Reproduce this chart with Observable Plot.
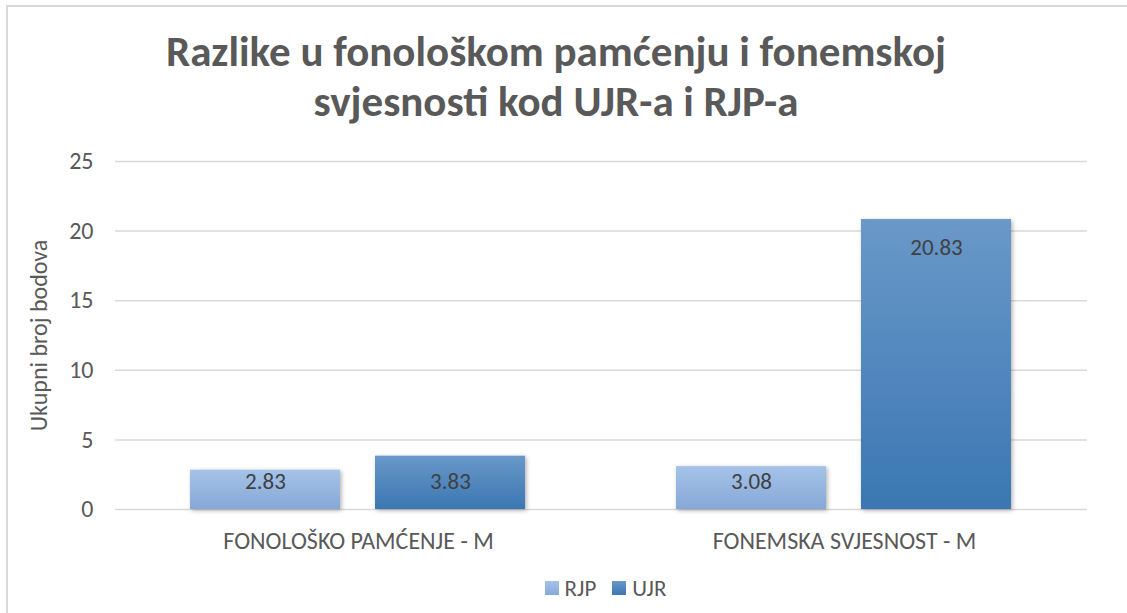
<!DOCTYPE html>
<html>
<head>
<meta charset="utf-8">
<script src="https://cdn.jsdelivr.net/npm/d3@7"></script>
<script src="https://cdn.jsdelivr.net/npm/@observablehq/plot@0.6"></script>
<style>
  html, body { margin: 0; padding: 0; background: #fff; width: 1127px; height: 613px; overflow: hidden; }
  body { font-family: "Carlito", "Open Sans", sans-serif; position: relative; }
  #frame { position: absolute; left: 6px; top: 5px; width: 1200px; height: 700px; border-left: 2px solid #d9d9d9; border-top: 2px solid #d9d9d9; box-sizing: border-box; }
  #title { position: absolute; left: 0; width: 1112px; top: 27px; text-align: center; color: #595959; font-weight: bold; font-size: 43px; line-height: 50px; }
  #chart { position: absolute; left: 0; top: 140px; }
  #legend { position: absolute; top: 574px; left: 0; width: 1127px; display: flex; justify-content: center; gap: 16px; color: #595959; font-size: 23px; padding-left: 84px; box-sizing: border-box; }
  .item { display: flex; align-items: center; gap: 6px; }
  .sw { width: 14px; height: 14px; display: inline-block; }
</style>
</head>
<body>
<div id="frame"></div>
<div id="title">Razlike u fonološkom pamćenju i fonemskoj<br>svjesnosti kod UJR-a i RJP-a</div>
<div id="chart"></div>
<div id="legend"></div>
<script>
const categories = ["FONOLOŠKO PAMĆENJE - M", "FONEMSKA SVJESNOST - M"];
const seriesNames = ["RJP", "UJR"];
const rjpValues = [2.83, 3.08];
const ujrValues = [3.83, 20.83];
const yTicks = [0, 5, 10, 15, 20, 25];
const yLabel = "Ukupni broj bodova";

const seriesColors = { RJP: ["#a5c3e9", "#86a8d7"], UJR: ["#6a98c9", "#3a77b2"] };

const data = [];
categories.forEach((c, i) => {
  data.push({ category: c, series: "RJP", value: rjpValues[i] });
  data.push({ category: c, series: "UJR", value: ujrValues[i] });
});

const font = '"Carlito", "Open Sans", sans-serif';

const plot = Plot.plot({
  width: 1127,
  height: 430,
  marginLeft: 114,
  marginRight: 40,
  marginTop: 21,
  marginBottom: 61,
  style: { fontFamily: font, fontSize: "24px", color: "#595959", background: "transparent" },
  fx: { domain: categories, padding: 0, label: null },
  x: { domain: seriesNames, paddingInner: 0.188, paddingOuter: 0.402, axis: null },
  y: { domain: [0, 25], ticks: yTicks, label: null },
  color: { type: "identity" },
  marks: [
    Plot.gridY(yTicks, { stroke: "#d9d9d9", strokeOpacity: 1, strokeWidth: 1.5 }),
    Plot.axisY(yTicks, { tickSize: 0, tickPadding: 22, label: yLabel, labelArrow: "none", labelAnchor: "center", labelOffset: 86, fontSize: 24, fill: "#595959" }),
    Plot.axisFx({ anchor: "bottom", tickSize: 0, tickPadding: 22, label: null, fontSize: 24, fill: "#595959" }),
    Plot.barY(data, { fx: "category", x: "series", y: "value", fill: d => `url(#grad-${d.series})` }),
    Plot.text(data.filter(d => d.value > 10), { fx: "category", x: "series", y: "value", text: d => d.value.toFixed(2), dy: 28, fontSize: 23, fill: "#404040" }),
    Plot.text(data.filter(d => d.value <= 10), { fx: "category", x: "series", frameAnchor: "bottom", text: d => d.value.toFixed(2), dy: -21, fontSize: 23, fill: "#404040" })
  ]
});

const ns = "http://www.w3.org/2000/svg";
const svg = plot.tagName.toLowerCase() === "svg" ? plot : plot.querySelector("svg");
const defs = document.createElementNS(ns, "defs");
for (const s of seriesNames) {
  const g = document.createElementNS(ns, "linearGradient");
  g.setAttribute("id", `grad-${s}`);
  g.setAttribute("x1", "0"); g.setAttribute("y1", "0"); g.setAttribute("x2", "0"); g.setAttribute("y2", "1");
  seriesColors[s].forEach((col, k) => {
    const st = document.createElementNS(ns, "stop");
    st.setAttribute("offset", k === 0 ? "0" : "1");
    st.setAttribute("stop-color", col);
    g.appendChild(st);
  });
  defs.appendChild(g);
}
const f = document.createElementNS(ns, "filter");
f.setAttribute("id", "barShadow");
f.setAttribute("x", "-10%"); f.setAttribute("y", "-10%"); f.setAttribute("width", "130%"); f.setAttribute("height", "130%");
const ds = document.createElementNS(ns, "feDropShadow");
ds.setAttribute("dx", "1.5"); ds.setAttribute("dy", "1.5"); ds.setAttribute("stdDeviation", "2"); ds.setAttribute("flood-color", "#000"); ds.setAttribute("flood-opacity", "0.3");
f.appendChild(ds);
defs.appendChild(f);
svg.insertBefore(defs, svg.firstChild);
svg.querySelectorAll("rect").forEach(r => { if ((r.getAttribute("fill") || "").startsWith("url(#grad")) r.setAttribute("filter", "url(#barShadow)"); });

document.getElementById("chart").appendChild(plot);

const legend = document.getElementById("legend");
for (const s of seriesNames) {
  const it = document.createElement("div");
  it.className = "item";
  const sw = document.createElement("span");
  sw.className = "sw";
  sw.style.background = `linear-gradient(${seriesColors[s][0]}, ${seriesColors[s][1]})`;
  const lab = document.createElement("span");
  lab.textContent = s;
  it.appendChild(sw); it.appendChild(lab);
  legend.appendChild(it);
}
</script>
</body>
</html>
